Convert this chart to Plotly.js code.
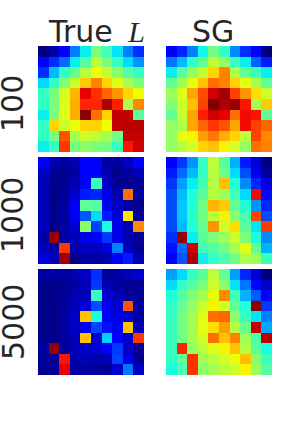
<!DOCTYPE html>
<html>
<head>
<meta charset="utf-8">
<script src="https://cdn.plot.ly/plotly-3.0.1.min.js"></script>
<style>html,body{margin:0;padding:0;background:#fff;}#chart{width:302px;height:432px;}</style>
</head>
<body>
<div id="chart"></div>
<script>
var columnTitles = ['True&#8201; <span style="font-family:\'Liberation Serif\';font-style:italic">L</span>', 'SG'];
var rowLabels = ['100', '1000', '5000'];

var true100 = [
[0.00,0.04,0.11,0.25,0.36,0.50,0.43,0.35,0.25,0.17],
[0.11,0.17,0.23,0.36,0.45,0.58,0.50,0.42,0.34,0.27],
[0.17,0.31,0.41,0.47,0.57,0.64,0.59,0.52,0.45,0.42],
[0.34,0.41,0.51,0.60,0.69,0.77,0.68,0.62,0.55,0.50],
[0.41,0.50,0.61,0.71,0.91,0.86,0.80,0.75,0.68,0.64],
[0.41,0.50,0.62,0.72,0.87,0.87,0.96,0.88,0.56,0.76],
[0.36,0.50,0.62,0.72,0.99,0.79,0.68,0.94,0.94,0.46],
[0.41,0.68,0.60,0.64,0.68,0.68,0.64,0.94,0.95,0.95],
[0.41,0.49,0.82,0.55,0.60,0.58,0.55,0.49,0.94,0.94],
[0.36,0.41,0.85,0.49,0.52,0.50,0.49,0.42,0.89,0.93]];
var sg100 = [
[0.11,0.16,0.25,0.37,0.49,0.41,0.26,0.17,0.11,0.00],
[0.24,0.31,0.41,0.47,0.58,0.53,0.42,0.36,0.22,0.15],
[0.36,0.46,0.53,0.59,0.68,0.77,0.56,0.47,0.42,0.36],
[0.47,0.55,0.63,0.70,0.79,0.77,0.68,0.63,0.55,0.47],
[0.54,0.62,0.73,0.83,0.93,0.97,0.84,0.75,0.67,0.60],
[0.51,0.60,0.70,0.84,1.00,0.96,0.98,0.89,0.55,0.69],
[0.47,0.59,0.73,0.88,0.93,0.91,0.79,0.90,0.89,0.46],
[0.53,0.56,0.73,0.80,0.85,0.82,0.73,0.90,0.84,0.80],
[0.53,0.63,0.65,0.74,0.78,0.72,0.68,0.58,0.84,0.76],
[0.53,0.57,0.61,0.68,0.70,0.65,0.61,0.53,0.79,0.77]];
var true1000 = [
[0.11,0.04,0.03,0.04,0.11,0.11,0.03,0.03,0.06,0.11],
[0.06,0.02,0.01,0.03,0.11,0.12,0.04,0.01,0.03,0.05],
[0.05,0.01,0.02,0.04,0.11,0.42,0.06,0.02,0.01,0.02],
[0.05,0.01,0.02,0.07,0.15,0.16,0.09,0.04,0.79,0.03],
[0.05,0.01,0.03,0.10,0.47,0.45,0.12,0.06,0.03,0.01],
[0.05,0.01,0.03,0.10,0.21,0.34,0.15,0.08,0.66,0.03],
[0.05,0.01,0.03,0.07,0.52,0.19,0.38,0.09,0.04,0.76],
[0.03,0.98,0.03,0.05,0.09,0.11,0.18,0.09,0.04,0.02],
[0.05,0.03,0.85,0.04,0.06,0.05,0.08,0.25,0.06,0.02],
[0.08,0.05,0.97,0.01,0.03,0.03,0.04,0.11,0.15,0.05]];
var sg1000 = [
[0.11,0.18,0.27,0.41,0.58,0.46,0.30,0.15,0.07,0.00],
[0.15,0.23,0.31,0.41,0.57,0.48,0.34,0.20,0.09,0.03],
[0.18,0.28,0.36,0.43,0.57,0.70,0.39,0.26,0.16,0.08],
[0.20,0.31,0.39,0.46,0.57,0.54,0.43,0.34,0.90,0.13],
[0.20,0.32,0.39,0.49,0.71,0.69,0.47,0.39,0.27,0.16],
[0.20,0.32,0.40,0.49,0.58,0.65,0.52,0.44,0.84,0.20],
[0.20,0.31,0.39,0.47,0.75,0.60,0.67,0.46,0.35,0.85],
[0.17,0.98,0.36,0.46,0.50,0.54,0.60,0.50,0.38,0.26],
[0.14,0.23,0.93,0.43,0.45,0.49,0.55,0.63,0.47,0.30],
[0.12,0.21,0.96,0.36,0.41,0.44,0.49,0.56,0.54,0.42]];
var true5000 = [
[0.03,0.03,0.03,0.04,0.06,0.17,0.02,0.03,0.05,0.07],
[0.01,0.01,0.02,0.03,0.05,0.18,0.04,0.03,0.02,0.02],
[0.01,0.01,0.02,0.04,0.05,0.42,0.07,0.05,0.02,0.02],
[0.01,0.01,0.03,0.05,0.08,0.20,0.10,0.07,0.82,0.03],
[0.01,0.01,0.03,0.06,0.70,0.38,0.12,0.09,0.07,0.03],
[0.01,0.01,0.03,0.06,0.09,0.19,0.14,0.11,0.70,0.05],
[0.01,0.01,0.03,0.05,0.70,0.07,0.33,0.11,0.07,0.85],
[0.03,0.98,0.03,0.05,0.07,0.07,0.12,0.18,0.06,0.02],
[0.02,0.02,0.89,0.04,0.05,0.04,0.05,0.19,0.09,0.01],
[0.02,0.02,0.91,0.03,0.03,0.03,0.02,0.07,0.24,0.06]];
var sg5000 = [
[0.28,0.34,0.41,0.46,0.58,0.47,0.28,0.16,0.07,0.00],
[0.34,0.41,0.45,0.50,0.60,0.52,0.35,0.24,0.13,0.06],
[0.39,0.45,0.51,0.55,0.63,0.76,0.43,0.30,0.21,0.12],
[0.41,0.47,0.53,0.60,0.65,0.60,0.47,0.39,0.99,0.18],
[0.42,0.49,0.55,0.62,0.79,0.80,0.52,0.42,0.35,0.25],
[0.42,0.49,0.55,0.63,0.67,0.74,0.57,0.48,0.94,0.29],
[0.42,0.49,0.55,0.61,0.79,0.70,0.77,0.54,0.44,0.95],
[0.42,0.87,0.53,0.58,0.62,0.65,0.70,0.57,0.46,0.38],
[0.41,0.47,0.86,0.55,0.58,0.61,0.64,0.70,0.52,0.42],
[0.38,0.44,0.86,0.52,0.55,0.58,0.60,0.65,0.53,0.45]];

var jet = [[0,'#00007f'],[0.11,'#0000ff'],[0.125,'#0000ff'],[0.34,'#00dbff'],[0.35,'#00e5f8'],
[0.375,'#14ffe3'],[0.5,'#7bff7b'],[0.64,'#edff08'],[0.66,'#ffe600'],[0.89,'#ff1300'],[0.91,'#e80000'],[1,'#7f0000']];

var W = 302, H = 432;
var colX = [[38,144],[166,272]];
var rowY = [[46,152],[157,264],[269,375]];
var labelY = [104, 215, 322];
var titleX = [96, 213];
var panels = [[true100,sg100],[true1000,sg1000],[true5000,sg5000]];

var traces = [], layout = {
  width:W, height:H, margin:{l:0,r:0,t:0,b:0}, paper_bgcolor:'#fff', plot_bgcolor:'#fff',
  showlegend:false, annotations:[]
};
var font = {family:'DejaVu Sans', size:30, color:'#262626'};
panels.forEach(function(row,r){
  row.forEach(function(z,c){
    var n = r*2+c+1, s = n===1?'':String(n);
    traces.push({type:'heatmap', z:z, xaxis:'x'+s, yaxis:'y'+s, zmin:0, zmax:1,
      colorscale:jet, showscale:false, hoverinfo:'skip', zsmooth:false});
    var axis = {showgrid:false, zeroline:false, showticklabels:false, ticks:'', showline:false, fixedrange:true};
    layout['xaxis'+s] = Object.assign({}, axis, {domain:[colX[c][0]/W,colX[c][1]/W], range:[-0.5,9.5], anchor:'y'+s});
    layout['yaxis'+s] = Object.assign({}, axis, {domain:[1-rowY[r][1]/H,1-rowY[r][0]/H], range:[9.5,-0.5], anchor:'x'+s});
  });
  layout.annotations.push({text:rowLabels[r], xref:'paper', yref:'paper', x:13/W, y:1-labelY[r]/H,
    textangle:-90, showarrow:false, font:font, xanchor:'center', yanchor:'middle'});
});
columnTitles.forEach(function(t,c){
  layout.annotations.push({text:t, xref:'paper', yref:'paper', x:titleX[c]/W, y:1-31/H,
    showarrow:false, font:font, xanchor:'center', yanchor:'middle'});
});
Plotly.newPlot('chart', traces, layout, {displayModeBar:false, staticPlot:true});
</script>
</body>
</html>
